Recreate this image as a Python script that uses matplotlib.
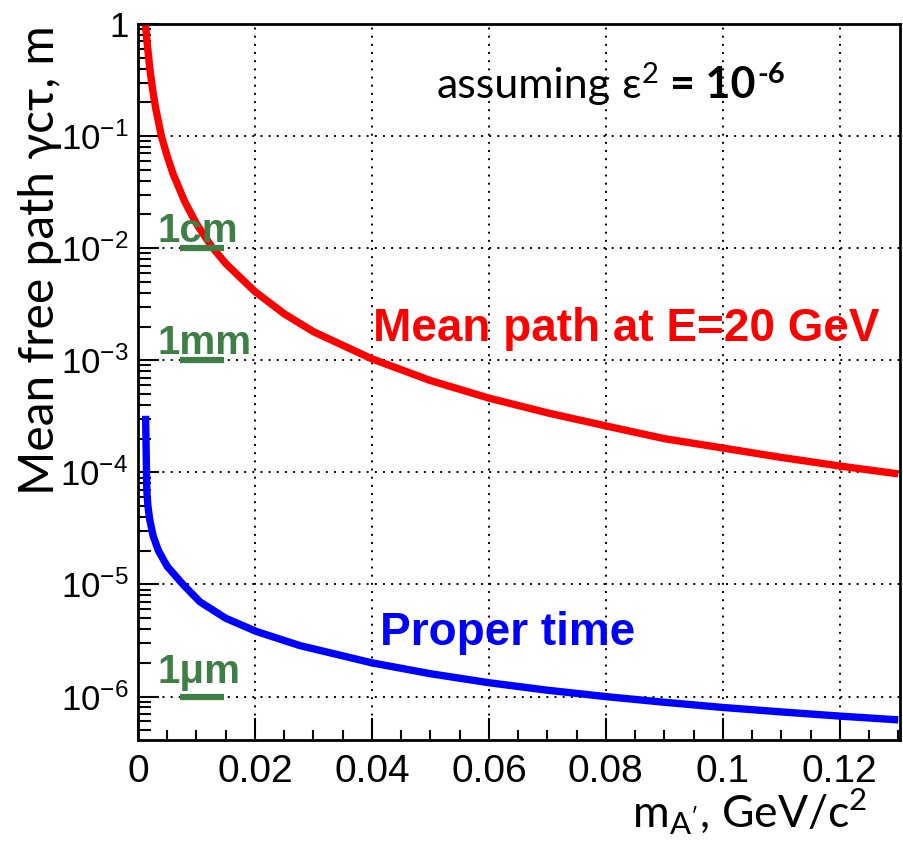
import matplotlib
matplotlib.use("Agg")
import matplotlib.pyplot as plt
from matplotlib.ticker import FixedLocator, MultipleLocator, LogLocator, NullFormatter, FixedFormatter
from matplotlib.transforms import offset_copy

# ---- data ----
mass_red = [0.0013, 0.0015, 0.002, 0.0025, 0.003, 0.004, 0.005, 0.006, 0.008, 0.01,
            0.0125, 0.015, 0.02, 0.025, 0.03, 0.04, 0.05, 0.06, 0.07, 0.08,
            0.09, 0.1, 0.11, 0.12, 0.13]
path_red = [0.97, 0.73, 0.41, 0.26, 0.18, 0.10, 0.066, 0.046, 0.026, 0.0165,
            0.0105, 0.0073, 0.0041, 0.0026, 0.0018, 0.00103, 0.00066, 0.00046, 0.00034, 0.00026,
            0.0002, 0.000165, 0.000136, 0.000114, 0.000097]

mass_blue = [0.0013, 0.0014, 0.0015, 0.0017, 0.002, 0.0026, 0.0035, 0.005, 0.0077, 0.0106,
             0.015, 0.0203, 0.0277, 0.04, 0.05, 0.06, 0.07, 0.08, 0.09, 0.1,
             0.11, 0.12, 0.13]
path_blue = [3.2e-4, 1.5e-4, 7e-5, 5e-5, 3.8e-5, 2.7e-5, 2.0e-5, 1.45e-5, 1.0e-5, 7.0e-6,
             5.0e-6, 3.8e-6, 2.85e-6, 2.0e-6, 1.6e-6, 1.33e-6, 1.14e-6, 1.0e-6, 8.9e-7, 8.0e-7,
             7.3e-7, 6.7e-7, 6.2e-7]

x_ticks = [0, 0.02, 0.04, 0.06, 0.08, 0.1, 0.12]
x_ticklabels = ["0", "0.02", "0.04", "0.06", "0.08", "0.1", "0.12"]
y_ticks = [1e-6, 1e-5, 1e-4, 1e-3, 1e-2, 1e-1, 1]
y_ticklabels = [r"$10^{-6}$", r"$10^{-5}$", r"$10^{-4}$", r"$10^{-3}$", r"$10^{-2}$", r"$10^{-1}$", "1"]

# scale markers: label and the path length that its underline marks
marker_labels = ["1cm", "1mm", "1\u03bcm"]
marker_values = [1e-2, 1e-3, 1e-6]

plt.rcParams["mathtext.fontset"] = "custom"
plt.rcParams["mathtext.rm"] = "Liberation Sans"
plt.rcParams["mathtext.it"] = "Liberation Sans:italic"
plt.rcParams["mathtext.bf"] = "Liberation Sans:bold"

fig = plt.figure(figsize=(9.04, 8.41), dpi=100)
ax = fig.add_axes([138/904, 1-740/841, (900-138)/904, (740-24)/841])

ax.plot(mass_red, path_red, color="#ff0000", lw=5.3, solid_capstyle="butt", zorder=3)
ax.plot(mass_blue, path_blue, color="#0000ff", lw=5.3, solid_capstyle="butt", zorder=3)

ax.set_yscale("log")
ax.set_xlim(0, 0.1303)
ax.set_ylim(4.1e-7, 1.0)

ax.xaxis.set_major_locator(FixedLocator(x_ticks))
ax.xaxis.set_major_formatter(FixedFormatter(x_ticklabels))
ax.xaxis.set_minor_locator(MultipleLocator(0.005))
ax.yaxis.set_major_locator(FixedLocator(y_ticks))
ax.yaxis.set_major_formatter(FixedFormatter(y_ticklabels))
ax.yaxis.set_minor_locator(LogLocator(base=10, subs=range(2, 10), numticks=20))
ax.yaxis.set_minor_formatter(NullFormatter())

ax.tick_params(axis="both", which="both", direction="in", top=False, right=False, width=1.5)
ax.tick_params(axis="x", which="major", length=16, pad=10, labelsize=28)
ax.tick_params(axis="x", which="minor", length=7.5)
ax.tick_params(axis="y", which="major", length=15, pad=7, labelsize=25)
ax.tick_params(axis="y", which="minor", length=9.5)
for lab in ax.get_xticklabels() + ax.get_yticklabels():
    lab.set_fontfamily("Liberation Sans")

for s in ax.spines.values():
    s.set_linewidth(2)

ax.grid(True, which="major", color="black", linestyle=(0, (1, 3.2)), linewidth=1.4)

# axis titles
fig.text(54/904, 1-260/841, "Mean free path \u03b3c\u03c4, m", rotation=90, rotation_mode="anchor",
         ha="center", va="baseline", fontsize=34.5, family="Lato")
fig.text(867/904, 1-828/841, r"m$_{\mathregular{A'}}$, GeV/c$^{\mathregular{2}}$",
         ha="right", va="baseline", fontsize=32, family="Lato")

renderer = fig.canvas.get_renderer()


def text_runs(x, y, runs, transform):
    """Write pieces of text one after another on a common baseline."""
    off = 0.0
    for s, kw, dy, gap in runs:
        t = ax.text(x, y, s, transform=offset_copy(transform, fig, x=off, y=dy, units="dots"),
                    ha="left", va="baseline", **kw)
        off += t.get_window_extent(renderer=renderer).width + gap


reg = dict(fontsize=31, family="Lato")
sup = dict(fontsize=21, family="Lato")
bold = dict(fontsize=31, family="Lato", fontweight="bold")
bsup = dict(fontsize=21, family="Lato", fontweight="bold")
text_runs(0.0511, 0.217, [
    ("assuming", reg, 0, 10),
    ("\u03b5", reg, 0, 1),
    ("2", sup, 15, 12),
    ("= 10", bold, 0, 1),
    ("-6", bsup, 15, 0),
], ax.transData)

ax.text(0.0402, 1.5e-3, "Mean path at E=20 GeV", ha="left", va="baseline",
        color="#ff0000", fontsize=33, fontweight="bold", family="Liberation Sans")
ax.text(0.0414, 2.87e-6, "Proper time", ha="left", va="baseline",
        color="#0000ff", fontsize=33, fontweight="bold", family="Liberation Sans")

green = "#3d7f46"
marker_lift = [1.13, 1.13, 1.33]
for lab, val, lift in zip(marker_labels, marker_values, marker_lift):
    ax.text(0.0034, val * lift, lab, ha="left", va="baseline", color=green,
            fontsize=29, fontweight="bold", family="Liberation Sans", zorder=4)
    ax.plot([0.00718, 0.0147], [val, val], color=green, lw=4.5, solid_capstyle="butt", zorder=4)

fig.savefig("out.png", dpi=100)
